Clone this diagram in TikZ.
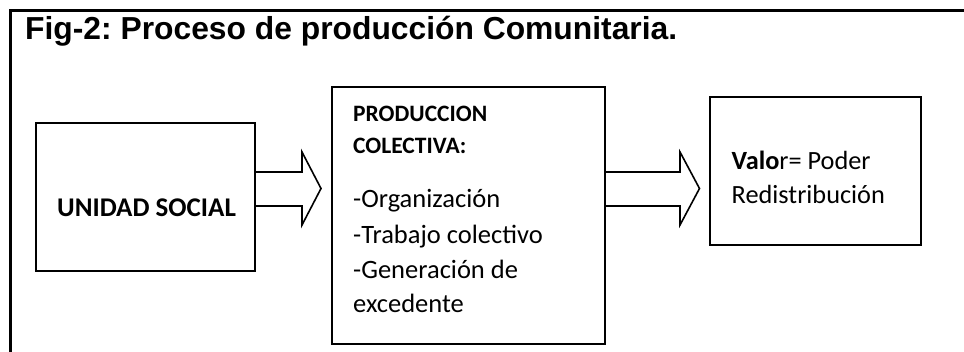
\documentclass[tikz,border=0pt]{standalone}
\usepackage{fontspec}
\usetikzlibrary{calc}
\newfontfamily\calib{Carlito}
\newfontfamily\arialf{Liberation Sans}
\tikzset{
  boxn/.style={draw, line width=2pt, inner sep=0pt, fill=white},
  blockarrow/.style={draw, line width=1.6pt, fill=white, line join=miter},
  txt/.style={inner sep=0pt, anchor=base west},
  framel/.style={line width=3pt}
}
\newcommand{\fsz}[1]{\fontsize{#1}{#1}\selectfont}
\begin{document}
\frenchspacing
\begin{tikzpicture}[x=1pt,y=-1pt]
\useasboundingbox (0,0) rectangle (964,352);
% frame
\coordinate (fbl) at (10,354);
\coordinate (ftl) at (10,11);
\coordinate (ftr) at (966,11);
\draw[framel] (fbl) -- (ftl) -- (ftr);
% title
\node[txt, font=\arialf\bfseries\fsz{31.8}] (title) at (25,39.5) {Fig-2: Proceso de producción Comunitaria.};
% boxes
\node[boxn, minimum width=219pt, minimum height=148pt] (u) at (145.5,197) {};
\node[boxn, minimum width=273pt, minimum height=257pt] (p) at (468.5,215.5) {};
\node[boxn, minimum width=211pt, minimum height=148pt] (v) at (815.5,171) {};
% texts
\node[txt, font=\calib\bfseries\fsz{27}] (ut) at (57,217) {UNIDAD SOCIAL};
\node[txt, font=\calib\bfseries\fsz{23.5}] (p1) at (353,122) {PRODUCCION};
\node[txt, font=\calib\bfseries\fsz{23.5}] (p2) at (353,154) {COLECTIVA:};
\node[txt, font=\calib\fsz{26.5}] (p3) at (353,208) {-Organización};
\node[txt, font=\calib\fsz{26.5}] (p4) at (353,244) {-Trabajo colectivo};
\node[txt, font=\calib\fsz{26.5}] (p5) at (353,279) {-Generación de};
\node[txt, font=\calib\fsz{26.5}] (p6) at (353,313) {excedente};
\node[txt, font=\calib\fsz{26.3}] (v1) at (731.5,170) {\textbf{Valo}r= Poder};
\node[txt, font=\calib\fsz{26.3}] (v2) at (731.5,204) {Redistribución};
% arrows
\coordinate (st) at (0,172);
\coordinate (sb) at (0,206);
\coordinate (tip1) at (321,188.5);
\coordinate (tip2) at (699.5,188.5);
\draw[blockarrow] (u.east |- st) -- ($(tip1)+(-19,-16.5)$) -- ($(tip1)+(-19,-36.5)$) -- (tip1)
  -- ($(tip1)+(-19,36.5)$) -- ($(tip1)+(-19,17.5)$) -- (u.east |- sb);
\draw[blockarrow] (p.east |- st) -- ($(tip2)+(-19.5,-16.5)$) -- ($(tip2)+(-19.5,-36.5)$) -- (tip2)
  -- ($(tip2)+(-19.5,36.5)$) -- ($(tip2)+(-19.5,17.5)$) -- (p.east |- sb);
\end{tikzpicture}
\end{document}
